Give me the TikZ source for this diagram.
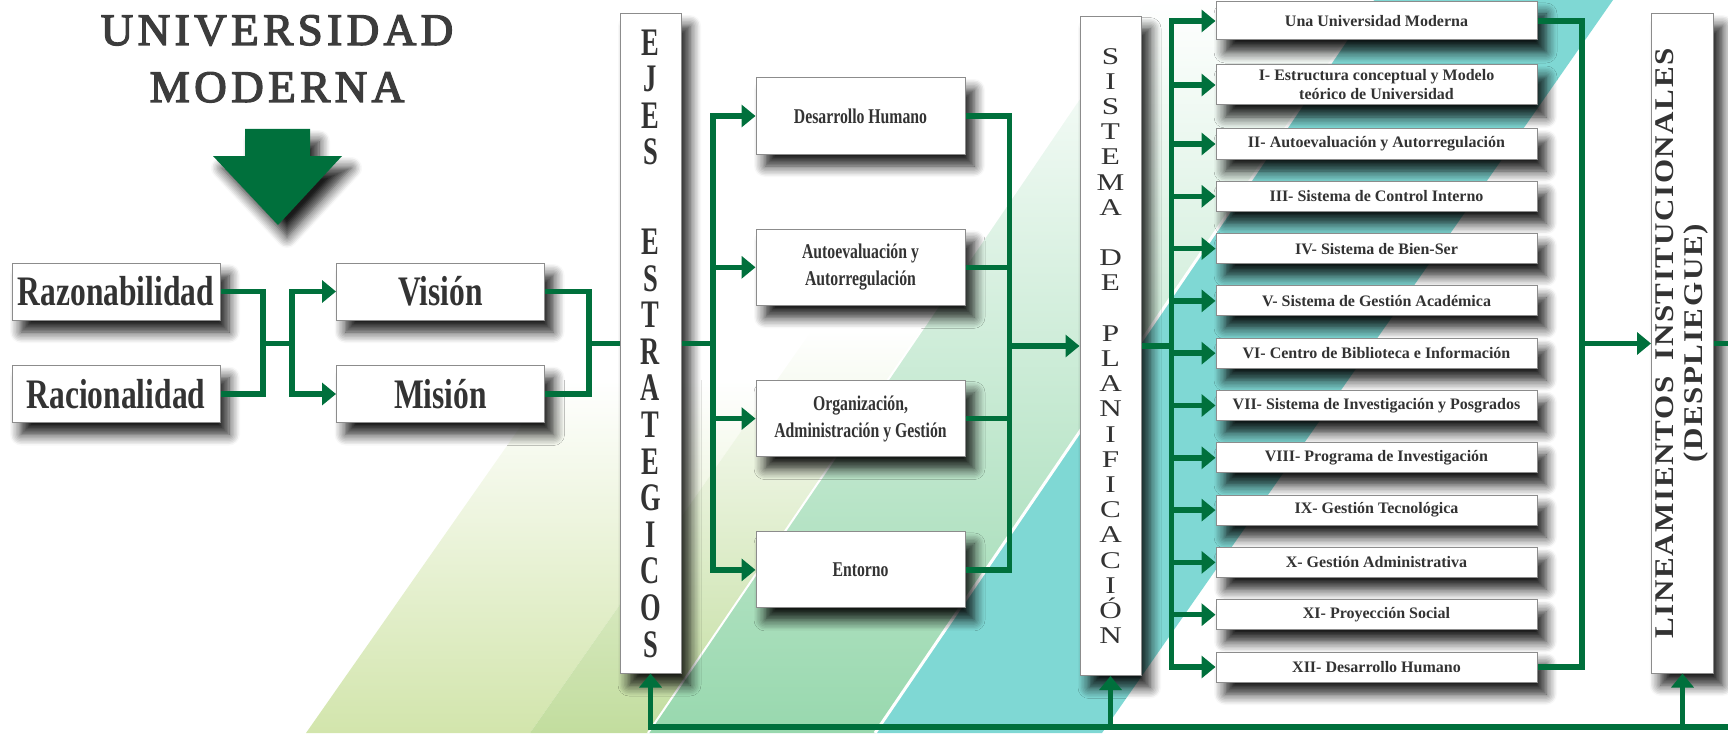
\documentclass[tikz,border=0pt]{standalone}
\usepackage{fontspec}
\usepackage{graphicx}
\usepackage{xcolor}
\usepackage{tikz}
\usetikzlibrary{arrows.meta, positioning, shadows.blur}
\setmainfont{Liberation Serif}
\newfontfamily\condfont[FakeStretch=0.75]{Liberation Serif}
\newfontfamily\pillarfont[FakeStretch=0.68]{Liberation Serif}
\newfontfamily\widefont[FakeStretch=1.3]{Liberation Serif}
\newfontfamily\titlefont[LetterSpace=10, FakeBold=3]{Liberation Serif}
\newfontfamily\linefont[FakeStretch=1.15, LetterSpace=6]{Liberation Serif}
\definecolor{ugreen}{HTML}{00703C}
\definecolor{boxtext}{HTML}{333333}
\definecolor{titlegray}{HTML}{3C3C3C}
\definecolor{pale}{HTML}{D2E5AC}
\definecolor{paledeep}{HTML}{C2DD9E}
\definecolor{mint}{HTML}{98D8AE}
\definecolor{stripeteal}{HTML}{7FD8D4}
\tikzstyle{shadowed} = [blur shadow={shadow xshift=9pt, shadow yshift=-12pt, shadow blur radius=11pt, shadow blur steps=8, shadow opacity=90}]
\tikzstyle{box} = [rectangle, draw=gray!90, line width=1pt, fill=white, text=boxtext, align=center, inner sep=2pt, shadowed]
\tikzstyle{bigbox} = [box, minimum width=208pt, minimum height=57pt, font=\condfont\bfseries\fontsize{42}{46}\selectfont]
\tikzstyle{ejebox} = [box, minimum width=209pt, minimum height=76pt, font=\condfont\bfseries\fontsize{21}{27}\selectfont]
\tikzstyle{listbox} = [box, minimum width=321pt, minimum height=30pt, font=\bfseries\fontsize{16}{19}\selectfont]
\tikzstyle{pillar} = [box, minimum width=61pt, minimum height=659pt]
\tikzstyle{bus} = [draw=ugreen, line width=5.5pt]
\tikzstyle{arrow} = [bus, -{Triangle[length=14pt, width=22pt]}]

\begin{document}
\begin{tikzpicture}[x=1pt, y=-1pt, node distance=52.3pt]
\useasboundingbox (0,0) rectangle (1728,733);

% background stripes
\shade[top color=white, bottom color=pale] (306,733) -- (530,733) -- (777,380) -- (553,380) -- cycle;
\shade[top color=white, bottom color=paledeep] (530,733) -- (648,733) -- (930,330) -- (812,330) -- cycle;
\shade[top color=white, middle color=mint!70, bottom color=mint] (648,733) -- (875,733) -- (1373,0) -- (1146,0) -- cycle;
\fill[stripeteal] (875,733) -- (1102,733) -- (1613,0) -- (1373,0) -- cycle;
\draw[white, line width=2pt] (648,733) -- (1146,0);
\draw[white, line width=3pt] (875,733) -- (1373,0);

% title and arrow
\node (titulo) [anchor=north, inner sep=0pt, text=titlegray, align=center, font=\titlefont\fontsize{45}{57}\selectfont] at (277,15) {UNIVERSIDAD\\MODERNA};
\fill[ugreen, shadowed] (245,129) -- (310,129) -- (310,156) -- (342,156) -- (278,225) -- (213,156) -- (245,156) -- cycle;

\node (razon) [bigbox] at (116,291.5) {Razonabilidad};
\node (racio) [bigbox] at (116,394) {Racionalidad};
\node (vision) [bigbox] at (440.5,291.5) {Visión};
\node (mision) [bigbox] at (440.5,394) {Misión};

\node (ejes) [pillar, font=\pillarfont\bfseries\fontsize{39}{36.6}\selectfont] at (650.5,343.5) {E\\J\\E\\S\\[53pt]E\\S\\T\\R\\A\\T\\E\\G\\I\\C\\O\\S};

\node (desarrollo) [ejebox] at (860.5,116) {Desarrollo Humano};
\node (autoeval) [ejebox, node distance=151.3pt, below of=desarrollo] {Autoevaluación y\\Autorregulación};
\node (organiz) [ejebox, node distance=151.3pt, below of=autoeval] {Organización,\\Administración y Gestión};
\node (entorno) [ejebox, node distance=151.3pt, below of=organiz] {Entorno};

\node (sistema) [pillar, font=\widefont\fontsize{24}{25.2}\selectfont] at (1110.5,346) {S\\I\\S\\T\\E\\M\\A\\[25.2pt]D\\E\\[25.2pt]P\\L\\A\\N\\I\\F\\I\\C\\A\\C\\I\\Ó\\N};

\node (una) [listbox, minimum height=38pt] at (1376.5,21) {Una Universidad Moderna};
\node (ei) [listbox, minimum height=40pt] at (1376.5,85) {I- Estructura conceptual y Modelo\\teórico de Universidad};
\node (eii) [listbox] at (1376.5,144) {II- Autoevaluación y Autorregulación};
\node (eiii) [listbox, below of=eii] {III- Sistema de Control Interno};
\node (eiv) [listbox, below of=eiii] {IV- Sistema de Bien-Ser};
\node (ev) [listbox, below of=eiv] {V- Sistema de Gestión Académica};
\node (evi) [listbox, below of=ev] {VI- Centro de Biblioteca e Información};
\node (evii) [listbox, below of=evi] {VII- Sistema de Investigación y Posgrados};
\node (eviii) [listbox, below of=evii] {VIII- Programa de Investigación};
\node (eix) [listbox, below of=eviii] {IX- Gestión Tecnológica};
\node (ex) [listbox, below of=eix] {X- Gestión Administrativa};
\node (exi) [listbox, below of=ex] {XI- Proyección Social};
\node (exii) [listbox, below of=exi] {XII- Desarrollo Humano};

\node (lineam) [pillar, font=\linefont\bfseries\fontsize{27}{29}\selectfont] at (1682.5,343.5) {\rotatebox{90}{\begin{tabular}{@{}c@{}}LINEAMIENTOS\hspace{16pt}INSTITUCIONALES\\(DESPLIEGUE)\end{tabular}}};

% connectors
\coordinate (j1) at (263,343.5);
\coordinate (s1) at (292,343.5);
\draw [bus] (razon.east) -| (j1) |- (racio.east);
\draw [bus] (j1) -- (s1);
\draw [arrow] (s1) |- (vision.west);
\draw [arrow] (s1) |- (mision.west);

\coordinate (j2) at (589,343.5);
\draw [bus] (vision.east) -| (j2) |- (mision.east);
\draw [bus] (j2) -- (ejes.west);

\coordinate (s2) at (713,343.5);
\draw [bus] (ejes.east) -- (s2);
\draw [arrow] (s2) |- (desarrollo.west);
\draw [arrow] (s2) |- (autoeval.west);
\draw [arrow] (s2) |- (organiz.west);
\draw [arrow] (s2) |- (entorno.west);

\coordinate (j3) at (1009.5,346);
\draw [bus] (desarrollo.east) -| (j3) |- (entorno.east);
\draw [bus] (autoeval.east) -- (autoeval.east -| j3);
\draw [bus] (organiz.east) -- (organiz.east -| j3);
\draw [arrow] (j3) -- (sistema.west);

\coordinate (s3) at (1171.5,346);
\draw [bus] (sistema.east) -- (s3);
\draw [arrow] (s3) |- (una.west);
\draw [arrow] (s3) |- (ei.west);
\draw [arrow] (s3) |- (eii.west);
\draw [arrow] (s3) |- (eiii.west);
\draw [arrow] (s3) |- (eiv.west);
\draw [arrow] (s3) |- (ev.west);
\draw [arrow] (s3) |- (evi.west);
\draw [arrow] (s3) |- (evii.west);
\draw [arrow] (s3) |- (eviii.west);
\draw [arrow] (s3) |- (eix.west);
\draw [arrow] (s3) |- (ex.west);
\draw [arrow] (s3) |- (exi.west);
\draw [arrow] (s3) |- (exii.west);

\coordinate (j4) at (1582,343.5);
\draw [bus] (una.east) -| (j4) |- (exii.east);
\draw [arrow] (j4) -- (lineam.west);

\coordinate (re) at (1728,343.5);
\draw [bus] (lineam.east) -- (re);

\coordinate (rb) at (1728,727);
\draw [arrow] (rb) -| (ejes.south);
\draw [arrow] (sistema.south |- rb) -- (sistema.south);
\draw [arrow] (lineam.south |- rb) -- (lineam.south);
\end{tikzpicture}
\end{document}
